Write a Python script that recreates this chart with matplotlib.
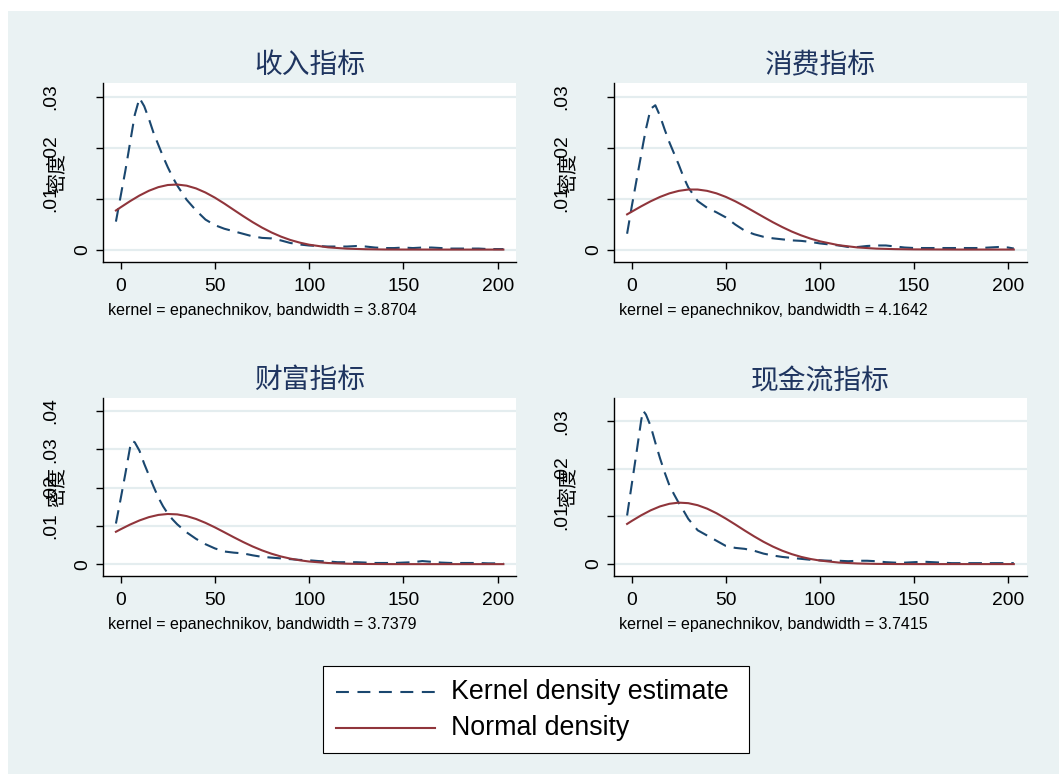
import matplotlib
matplotlib.use("Agg")
import matplotlib.pyplot as plt
from matplotlib.patches import Rectangle
from matplotlib.lines import Line2D

plt.rcParams['font.family'] = ['Liberation Sans', 'Noto Sans CJK SC', 'DejaVu Sans']

# ---------------------------------------------------------------- data
titles = ["收入指标", "消费指标", "财富指标", "现金流指标"]
bandwidths = ["3.8704", "4.1642", "3.7379", "3.7415"]
y_title = "密度"
legend_labels = ["Kernel density estimate", "Normal density"]
x_ticks = [0, 50, 100, 150, 200]
y_ticks = [
    [0, 0.01, 0.02, 0.03],
    [0, 0.01, 0.02, 0.03],
    [0, 0.01, 0.02, 0.03, 0.04],
    [0, 0.01, 0.02, 0.03],
]

kde_x = [-2.5, 0, 2.5, 5, 6, 7.5, 10, 12.5, 15, 17.5, 20, 22.5, 25, 27.5, 30,
         35, 40, 45, 50, 55, 60, 65, 70, 75, 80, 85, 90, 95, 100, 105, 110,
         115, 120, 125, 130, 135, 140, 145, 150, 155, 160, 165, 170, 175, 180,
         185, 190, 195, 200, 203]

kde_income = [0.0055, 0.0105, 0.0155, 0.0210, 0.0232, 0.0265, 0.0298, 0.0282,
              0.0257, 0.0229, 0.0206, 0.0183, 0.0162, 0.0143, 0.0126, 0.0098,
              0.0077, 0.0059, 0.0048, 0.0041, 0.0036, 0.0031, 0.0026, 0.0023,
              0.0022, 0.0018, 0.0013, 0.0010, 0.0008, 0.0007, 0.0006, 0.0006,
              0.0006, 0.0007, 0.0006, 0.0004, 0.0003, 0.0003, 0.0004, 0.0003,
              0.0004, 0.0004, 0.0003, 0.0002, 0.0002, 0.0002, 0.0002, 0.0001,
              0.0001, 0.0001]

kde_consumption = [0.0031, 0.0085, 0.0136, 0.0186, 0.0207, 0.0236, 0.0276,
                   0.0283, 0.0262, 0.0235, 0.0210, 0.0188, 0.0166, 0.0142,
                   0.0122, 0.0095, 0.0082, 0.0073, 0.0063, 0.0049, 0.0037,
                   0.0030, 0.0025, 0.0022, 0.0020, 0.0018, 0.0017, 0.0015,
                   0.0012, 0.0010, 0.0008, 0.0005, 0.0005, 0.0007, 0.0008,
                   0.0008, 0.0006, 0.0004, 0.0003, 0.0003, 0.0003, 0.0003,
                   0.0003, 0.0003, 0.0003, 0.0003, 0.0004, 0.0005, 0.0004,
                   0.0002]

kde_wealth = [0.0106, 0.0170, 0.0236, 0.0305, 0.0322, 0.0318, 0.0296, 0.0262,
              0.0232, 0.0202, 0.0174, 0.0151, 0.0132, 0.0117, 0.0104, 0.0083,
              0.0066, 0.0052, 0.0041, 0.0033, 0.0030, 0.0028, 0.0023, 0.0019,
              0.0017, 0.0015, 0.0013, 0.0011, 0.0010, 0.0008, 0.0007, 0.0005,
              0.0005, 0.0005, 0.0004, 0.0003, 0.0003, 0.0003, 0.0004, 0.0005,
              0.0008, 0.0006, 0.0004, 0.0003, 0.0003, 0.0003, 0.0003, 0.0002,
              0.0002, 0.0002]

kde_cashflow = [0.0102, 0.0168, 0.0234, 0.0302, 0.0322, 0.0314, 0.0290, 0.0255,
                0.0222, 0.0192, 0.0165, 0.0146, 0.0128, 0.0112, 0.0095, 0.0071,
                0.0060, 0.0049, 0.0038, 0.0034, 0.0032, 0.0028, 0.0022, 0.0018,
                0.0015, 0.0013, 0.0011, 0.0009, 0.0008, 0.0007, 0.0007, 0.0006,
                0.0007, 0.0007, 0.0006, 0.0004, 0.0003, 0.0003, 0.0004, 0.0005,
                0.0004, 0.0003, 0.0002, 0.0002, 0.0002, 0.0002, 0.0002, 0.0002,
                0.0002, 0.0002]

normal_x = [-2.5, 0, 5, 10, 15, 20, 25, 30, 35, 40, 45, 50, 55, 60, 65, 70,
            75, 80, 85, 90, 95, 100, 110, 120, 130, 140, 150, 175, 203]

normal_income = [0.00769, 0.00831, 0.00952, 0.01063, 0.01157, 0.01228, 0.01270,
                 0.01279, 0.01257, 0.01203, 0.01122, 0.01021, 0.00905, 0.00781,
                 0.00658, 0.00540, 0.00432, 0.00337, 0.00256, 0.00189, 0.00137,
                 0.00096, 0.00044, 0.00018, 0.00007, 0.00002, 0.00001, 0.0, 0.0]

normal_consumption = [0.00690, 0.00743, 0.00848, 0.00946, 0.01032, 0.01102,
                      0.01151, 0.01177, 0.01177, 0.01151, 0.01102, 0.01032,
                      0.00946, 0.00848, 0.00743, 0.00638, 0.00535, 0.00440,
                      0.00353, 0.00278, 0.00214, 0.00161, 0.00085, 0.00041,
                      0.00018, 0.00008, 0.00003, 0.0, 0.0]

normal_wealth = [0.00845, 0.00910, 0.01033, 0.01141, 0.01227, 0.01285, 0.01309,
                 0.01299, 0.01254, 0.01179, 0.01078, 0.00960, 0.00832, 0.00702,
                 0.00577, 0.00461, 0.00359, 0.00272, 0.00200, 0.00144, 0.00100,
                 0.00068, 0.00029, 0.00011, 0.00004, 0.00001, 0.0, 0.0, 0.0]

normal_cashflow = [0.00843, 0.00906, 0.01024, 0.01128, 0.01211, 0.01266, 0.01290,
                   0.01279, 0.01236, 0.01164, 0.01068, 0.00954, 0.00831, 0.00704,
                   0.00582, 0.00468, 0.00367, 0.00280, 0.00209, 0.00151, 0.00107,
                   0.00074, 0.00032, 0.00013, 0.00004, 0.00001, 0.0, 0.0, 0.0]

kde_series = [kde_income, kde_consumption, kde_wealth, kde_cashflow]
normal_series = [normal_income, normal_consumption, normal_wealth, normal_cashflow]

# ---------------------------------------------------------------- style
W, H, DPI = 1059, 774, 100
BG = "#EAF2F3"
GRID = "#E4EDEF"
NAVY = "#1a476f"
MAROON = "#90353b"
TITLE_COLOR = "#1f3560"
CJK = ["Noto Sans CJK SC", "DejaVu Sans"]

# plot regions in pixels: (left, top, right, bottom)
boxes = [(103.1, 83.3, 516.2, 262.3), (614.3, 83.3, 1026.6, 262.3),
         (103.1, 398.3, 516.2, 576.0), (614.3, 398.3, 1026.6, 576.0)]
ylims = [(-0.0025, 0.0327), (-0.0025, 0.0326), (-0.0031, 0.0433), (-0.0025, 0.0348)]
xlim = (-9.3, 209.8)

fig = plt.figure(figsize=(W / DPI, H / DPI), dpi=DPI, facecolor="white")
fig.add_artist(Rectangle((7.5 / W, 0), 1 - 7.5 / W, 1 - 11 / H,
                         transform=fig.transFigure, facecolor=BG,
                         edgecolor="none", zorder=-10))


def fx(px):
    return px / W


def fy(py):
    return 1 - py / H


for i in range(4):
    left, top, right, bottom = boxes[i]
    ax = fig.add_axes([fx(left), fy(bottom), (right - left) / W, (bottom - top) / H])
    ax.set_facecolor("white")
    ax.plot(kde_x, kde_series[i], color=NAVY, lw=1.5, dashes=(6.5, 3.8),
            solid_capstyle="butt", dash_capstyle="butt", zorder=3)
    ax.plot(normal_x, normal_series[i], color=MAROON, lw=1.5, zorder=4)

    ax.set_xlim(*xlim)
    ax.set_ylim(*ylims[i])
    ax.set_xticks(x_ticks)
    ax.set_xticklabels([str(t) for t in x_ticks], fontsize=13.9)
    ax.set_yticks(y_ticks[i])
    ax.set_yticklabels([])
    ax.tick_params(direction="out", length=5, width=1.0, color="black", pad=4)
    ax.tick_params(axis="x", pad=6.5)
    ax.grid(axis="y", color=GRID, lw=1.6)
    ax.grid(axis="x", visible=False)
    ax.set_axisbelow(True)
    for s in ("top", "right"):
        ax.spines[s].set_visible(False)
    for s in ("left", "bottom"):
        ax.spines[s].set_color("black")
        ax.spines[s].set_linewidth(1.0)

    width_px = right - left
    ytrans = ax.get_yaxis_transform()
    for t in y_ticks[i]:
        lab = "0" if t == 0 else ("%.2f" % t)[1:]
        off = -12 if t == 0 else -44
        ax.text(off / width_px, t, lab, transform=ytrans, rotation=90,
                ha="right", va="center", fontsize=13.9)
    ax.text(-45.6 / width_px, 0.5, y_title, transform=ax.transAxes,
            rotation=90, ha="center", va="center", fontsize=14.4, family=CJK)

    fig.text(fx((left + right) / 2), fy(top - 18), titles[i], ha="center",
             va="center", fontsize=20, color=TITLE_COLOR, family=CJK)
    fig.text(fx(left + 4.4), fy(bottom + 48),
             "kernel = epanechnikov, bandwidth = " + bandwidths[i],
             ha="left", va="center", fontsize=11.5)

# legend
fig.add_artist(Rectangle((fx(322.7), fy(752.7)), (749.3 - 322.7) / W,
                         (752.7 - 666.0) / H, transform=fig.transFigure,
                         facecolor="white", edgecolor="black", lw=0.8))
rows = [691.7, 728.3]
fig.add_artist(Line2D([fx(335.7), fx(435.0)], [fy(rows[0])] * 2,
                      transform=fig.transFigure, color=NAVY, lw=1.5,
                      dashes=(6.2, 4.1), dash_capstyle="butt"))
fig.add_artist(Line2D([fx(335.7), fx(435.0)], [fy(rows[1])] * 2,
                      transform=fig.transFigure, color=MAROON, lw=1.5))
for r, lab in zip(rows, legend_labels):
    fig.text(fx(451.0), fy(r), lab, ha="left", va="center", fontsize=19.3)

fig.savefig("out.png", dpi=DPI, facecolor="white")
